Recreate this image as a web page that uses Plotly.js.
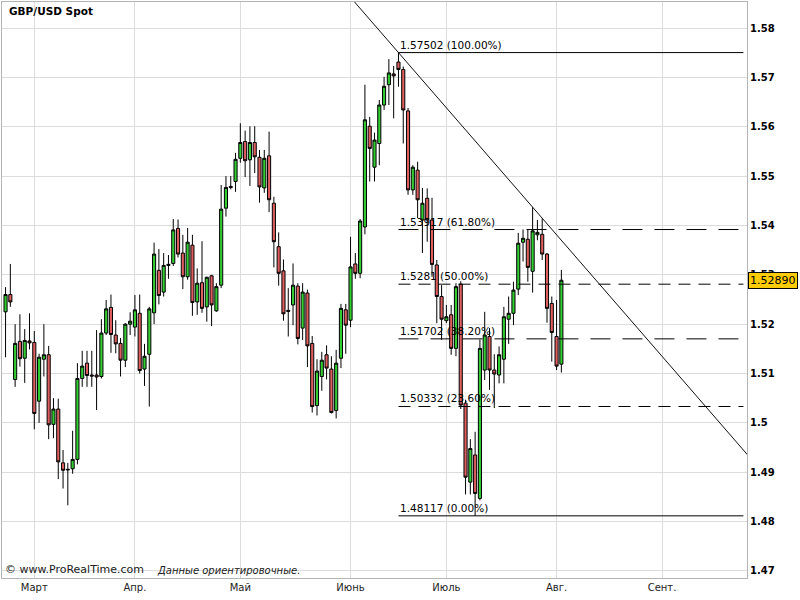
<!DOCTYPE html>
<html><head><meta charset="utf-8">
<script src="https://cdn.plot.ly/plotly-3.0.1.min.js"></script>
<style>html,body{margin:0;padding:0;background:#fff}#chart{width:800px;height:600px}</style>
</head><body><div id="chart"></div>
<script>
// ---- data (GBP/USD daily) ----
const startDate = '2013-02-21';
const open = [1.5225,1.5260,1.5088,1.5165,1.5131,1.5166,1.5163,1.5044,1.5129,1.5138,
1.4997,1.5028,1.4919,1.4906,1.4907,1.4926,1.5090,1.5121,1.5097,1.5097,
1.5094,1.5182,1.5234,1.5178,1.5161,1.5127,1.5200,1.5194,1.5222,1.5109,
1.5139,1.5223,1.5309,1.5265,1.5319,1.5323,1.5394,1.5344,1.5296,1.5360,
1.5245,1.5284,1.5235,1.5298,1.5227,1.5279,1.5435,1.5479,1.5489,1.5536,
1.5570,1.5533,1.5568,1.5538,1.5476,1.5541,1.5445,1.5357,1.5308,1.5228,
1.5239,1.5277,1.5192,1.5263,1.5161,1.5035,1.5094,1.5138,1.5109,1.5025,
1.5131,1.5229,1.5208,1.5322,1.5303,1.5397,1.5601,1.5518,1.5566,1.5644,
1.5685,1.5707,1.5731,1.5716,1.5632,1.5472,1.5512,1.5411,1.5455,1.5411,
1.5320,1.5256,1.5207,1.5219,1.5151,1.5281,1.5040,1.4880,1.4935,1.4847,
1.5107,1.5175,1.5107,1.5097,1.5129,1.5210,1.5222,1.5271,1.5366,1.5372,
1.5307,1.5381,1.5382,1.5342,1.5242,1.5175,1.5119];
const high = [1.5275,1.5322,1.5200,1.5220,1.5190,1.5222,1.5186,1.5140,1.5200,1.5156,
1.5050,1.5049,1.4945,1.4919,1.4984,1.5121,1.5146,1.5146,1.5146,1.5188,
1.5210,1.5249,1.5260,1.5208,1.5172,1.5202,1.5224,1.5259,1.5260,1.5160,
1.5235,1.5365,1.5352,1.5344,1.5340,1.5413,1.5412,1.5381,1.5395,1.5381,
1.5313,1.5368,1.5296,1.5300,1.5283,1.5482,1.5500,1.5500,1.5547,1.5607,
1.5592,1.5601,1.5601,1.5553,1.5553,1.5590,1.5458,1.5386,1.5331,1.5273,
1.5323,1.5283,1.5283,1.5270,1.5176,1.5129,1.5144,1.5157,1.5135,1.5148,
1.5241,1.5241,1.5377,1.5344,1.5413,1.5685,1.5620,1.5588,1.5654,1.5701,
1.5737,1.5723,1.57502,1.5722,1.5638,1.5522,1.5529,1.5476,1.5475,1.5456,
1.5330,1.5279,1.5239,1.5239,1.5283,1.5287,1.5047,1.4967,1.4982,1.5169,
1.5225,1.5192,1.5139,1.5155,1.5235,1.5256,1.5286,1.5385,1.5392,1.5392,
1.5437,1.5411,1.5414,1.5344,1.5256,1.5249,1.5310];
const low = [1.5133,1.5235,1.5073,1.5114,1.5081,1.5149,1.4987,1.5000,1.5094,1.4967,
1.4969,1.4886,1.4867,1.4833,1.4897,1.4916,1.5073,1.5073,1.5073,1.5026,
1.5090,1.5178,1.5142,1.5141,1.5094,1.5113,1.5178,1.5175,1.5100,1.5075,
1.5033,1.5200,1.5240,1.5256,1.5292,1.5318,1.5335,1.5271,1.5290,1.5217,
1.5219,1.5223,1.5205,1.5196,1.5225,1.5273,1.5418,1.5473,1.5468,1.5527,
1.5498,1.5480,1.5506,1.5446,1.5466,1.5427,1.5315,1.5278,1.5207,1.5175,
1.5198,1.5159,1.5168,1.5113,1.5021,1.5015,1.5065,1.5088,1.5019,1.5009,
1.5111,1.5140,1.5194,1.5292,1.5293,1.5382,1.5489,1.5489,1.5522,1.5634,
1.5644,1.5617,1.5681,1.5566,1.5462,1.5462,1.5415,1.5344,1.5367,1.5296,
1.5202,1.5168,1.5202,1.5138,1.5135,1.5028,1.4855,1.4855,1.48117,1.4843,
1.5087,1.5067,1.5030,1.5080,1.5080,1.5160,1.5198,1.5259,1.5327,1.5286,
1.5264,1.5370,1.5330,1.5203,1.5124,1.5107,1.5102];
const close = [1.5260,1.5245,1.5161,1.5130,1.5167,1.5162,1.5019,1.5133,1.5138,1.4996,
1.5028,1.4921,1.4904,1.4905,1.4926,1.5090,1.5115,1.5096,1.5095,1.5093,
1.5182,1.5231,1.5179,1.5160,1.5127,1.5200,1.5206,1.5229,1.5106,1.5135,
1.5231,1.5342,1.5258,1.5319,1.5321,1.5391,1.5342,1.5296,1.5366,1.5244,
1.5283,1.5232,1.5295,1.5239,1.5276,1.5433,1.5477,1.5477,1.5534,1.5568,
1.5531,1.5568,1.5539,1.5478,1.5536,1.5452,1.5367,1.5303,1.5221,1.5226,
1.5279,1.5171,1.5265,1.5156,1.5033,1.5105,1.5127,1.5111,1.5021,1.5121,
1.5232,1.5198,1.5316,1.5303,1.5409,1.5614,1.5556,1.5573,1.5644,1.5682,
1.5709,1.5703,1.5716,1.5634,1.5472,1.5518,1.5452,1.5445,1.5411,1.5321,
1.5256,1.5210,1.5215,1.5151,1.5276,1.5036,1.4890,1.4948,1.4857,1.5151,
1.5178,1.5107,1.5099,1.5138,1.5215,1.5222,1.5269,1.5364,1.5374,1.5315,
1.5389,1.5386,1.5342,1.5232,1.5183,1.5115,1.5289];
const monthLabels = ['Март','Апр.','Май','Июнь','Июль','Авг.','Сент.'];
const priceTicks = [1.47,1.48,1.49,1.50,1.51,1.52,1.53,1.54,1.55,1.56,1.57,1.58];
const fibLevels = [1.57502,1.53917,1.5281,1.51702,1.50332,1.48117];
const fibPct = ['100.00%','61.80%','50.00%','38.20%','23.60%','0.00%'];
const chartTitle = 'GBP/USD Spot';
const footerSite = '© www.ProRealTime.com';
const footerNote = 'Данные ориентировочные.';

// ---- trading-day calendar (weekdays) ----
function calendar(start, until) {
  const out = [];
  const d = new Date(start + 'T00:00:00Z');
  const end = new Date(until + 'T00:00:00Z');
  while (d <= end) {
    const wd = d.getUTCDay();
    if (wd !== 0 && wd !== 6) out.push(new Date(d.getTime()));
    d.setUTCDate(d.getUTCDate() + 1);
  }
  return out;
}
const cal = calendar(startDate, '2013-09-30');
const idx = open.map((_, i) => i);
const dates = cal.slice(0, open.length).map(d => d.toISOString().slice(0, 10));
const tickIdx = [];
for (let i = 1; i < cal.length; i++) {
  if (cal[i].getUTCMonth() !== cal[i - 1].getUTCMonth()) tickIdx.push(i);
}

// trend line through the June high and the late-July high
const iA = high.indexOf(Math.max(...high));
let iB = -1, best = -Infinity;
for (let i = iA + 10; i < high.length; i++) if (high[i] > best) { best = high[i]; iB = i; }
const slope = (high[iB] - high[iA]) / (iB - iA);
const tX = [iA - 20, iA + 90];
const tY = tX.map(x => high[iA] + slope * (x - iA));

const xMax = 154.74;
const fibStart = iA;
const fibEnd = 154.0;
const dashes = ['solid', '20px,12px', '12px,8px', '20px,12px', '12px,8px', 'solid'];

const traces = [
  {
    type: 'candlestick', x: idx, open: open, high: high, low: low, close: close,
    text: dates, hoverinfo: 'text',
    increasing: { fillcolor: '#33cc33', line: { color: '#000', width: 1 } },
    decreasing: { fillcolor: '#dd5e5e', line: { color: '#000', width: 1 } },
    whiskerwidth: 0, showlegend: false
  },
  {
    type: 'scatter', mode: 'lines', x: tX, y: tY,
    line: { color: '#111', width: 1 }, hoverinfo: 'skip', showlegend: false
  }
];

const shapes = fibLevels.map((v, k) => ({
  type: 'line', xref: 'x', yref: 'y', x0: fibStart, x1: fibEnd, y0: v, y1: v,
  line: { color: '#000', width: 1, dash: dashes[k] }, layer: 'above'
}));

const annotations = fibLevels.map((v, k) => ({
  xref: 'x', yref: 'y', x: fibStart, y: v, xanchor: 'left', yanchor: 'bottom',
  xshift: 0, yshift: 0, showarrow: false, borderpad: 1,
  text: String(v) + ' (' + fibPct[k] + ')',
  font: { family: 'DejaVu Sans', size: 10.5, color: '#000' }
}));
annotations.push({
  xref: 'paper', yref: 'paper', x: 0, y: 1, xanchor: 'left', yanchor: 'top',
  xshift: 5, yshift: -1, showarrow: false, text: '<b>' + chartTitle + '</b>',
  font: { family: 'DejaVu Sans', size: 10.5, color: '#000' }
});
annotations.push({
  xref: 'paper', yref: 'paper', x: 0, y: 0, xanchor: 'left', yanchor: 'bottom',
  xshift: 1, yshift: 0, showarrow: false, text: footerSite,
  font: { family: 'DejaVu Sans', size: 11, color: '#222' }
});
annotations.push({
  xref: 'paper', yref: 'paper', x: 153 / 745, y: 0, xanchor: 'left', yanchor: 'bottom',
  xshift: 0, yshift: 0, showarrow: false, text: '<i>' + footerNote + '</i>',
  font: { family: 'DejaVu Sans', size: 10, color: '#222' }
});
const last = close[close.length - 1];
annotations.push({
  xref: 'paper', yref: 'y', x: 1, y: last, xanchor: 'left', yanchor: 'middle',
  xshift: 1, showarrow: false, text: last.toFixed(5),
  bgcolor: '#ffcc00', bordercolor: '#000', borderwidth: 1, borderpad: 1,
  font: { family: 'DejaVu Sans', size: 11, color: '#000' }
});

const layout = {
  width: 800, height: 600,
  margin: { l: 2, r: 53, t: 2, b: 22, pad: 0 },
  paper_bgcolor: '#fff', plot_bgcolor: '#fff',
  showlegend: false, boxgap: 0.35, boxgroupgap: 0,
  xaxis: {
    range: [-0.74, xMax], tickvals: tickIdx, ticktext: monthLabels,
    showgrid: true, gridcolor: '#dcdcdc', gridwidth: 1, zeroline: false,
    showline: true, linecolor: '#b4b4b4', linewidth: 1, mirror: true,
    ticks: '', tickfont: { family: 'DejaVu Sans', size: 10, color: '#222' },
    rangeslider: { visible: false }, fixedrange: true
  },
  yaxis: {
    side: 'right', range: [1.468574, 1.585267],
    tickvals: priceTicks, ticktext: priceTicks.map(v => String(+v.toFixed(2))),
    showgrid: true, gridcolor: '#dcdcdc', gridwidth: 1, zeroline: false,
    showline: true, linecolor: '#b4b4b4', linewidth: 1, mirror: true,
    ticks: '', tickfont: { family: 'DejaVu Sans', size: 10, color: '#000', weight: 'bold' },
    fixedrange: true
  },
  shapes: shapes,
  annotations: annotations
};

Plotly.newPlot('chart', traces, layout, { staticPlot: true, displayModeBar: false });
</script>
</body></html>
